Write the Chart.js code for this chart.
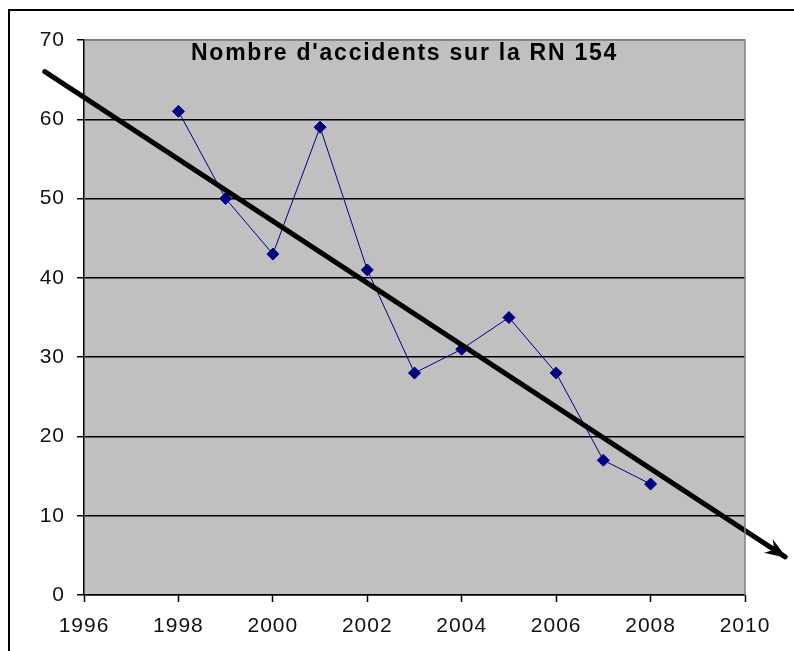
<!DOCTYPE html>
<html lang="fr">
<head>
<meta charset="UTF-8">
<title>Nombre d'accidents sur la RN 154</title>
<script src="https://cdn.jsdelivr.net/npm/chart.js"></script>
<style>
  body { margin: 0; background: #fff; overflow: hidden; }
  #frame { position: absolute; left: 8px; top: 9px; width: 900px; height: 800px;
           border-left: 2px solid #000; border-top: 2px solid #000; }
  #box { position: absolute; left: 0; top: 0; width: 794px; height: 651px; }
  #titre { position: absolute; left: 191px; top: 39px; font: bold 23px "Liberation Sans", Arial, sans-serif;
           letter-spacing: 1.75px; color: #000; white-space: nowrap; }
</style>
</head>
<body>
<div id="frame"></div>
<div id="box"><canvas id="chart"></canvas></div>
<div id="titre">Nombre d'accidents sur la RN 154</div>
<script>
// données
const annees = [1998, 1999, 2000, 2001, 2002, 2003, 2004, 2005, 2006, 2007, 2008];
const accidents = [61, 50, 43, 59, 41, 28, 31, 35, 28, 17, 14];
// flèche de tendance (extrémités)
const tendanceX = [1995.17, 2010.85];
const tendanceY = [66, 4.8];
const ticksX = [1996, 1998, 2000, 2002, 2004, 2006, 2008, 2010];

const fond = {
  id: 'fond',
  beforeDraw(chart) {
    const a = chart.chartArea, ctx = chart.ctx;
    ctx.letterSpacing = '1px';
    ctx.save();
    ctx.fillStyle = '#c0c0c0';
    ctx.fillRect(a.left, a.top, a.right - a.left, a.bottom - a.top);
    ctx.restore();
  },
  afterDraw(chart) {
    const a = chart.chartArea, ctx = chart.ctx;
    ctx.save();
    ctx.strokeStyle = '#808080';
    ctx.lineWidth = 1.5;
    ctx.beginPath();
    ctx.moveTo(a.left, a.top);
    ctx.lineTo(a.right, a.top);
    ctx.lineTo(a.right, a.bottom);
    ctx.stroke();
    ctx.restore();
  }
};

const fleche = {
  id: 'fleche',
  afterDatasetsDraw(chart) {
    const pts = chart.getDatasetMeta(0).data;
    const p1 = pts[pts.length - 2], p2 = pts[pts.length - 1];
    const ang = Math.atan2(p2.y - p1.y, p2.x - p1.x);
    const L = 20, W = 8;
    const ctx = chart.ctx;
    ctx.save();
    ctx.fillStyle = '#000';
    ctx.translate(p2.x, p2.y);
    ctx.rotate(ang);
    ctx.beginPath();
    ctx.moveTo(2, 0);
    ctx.lineTo(-L, -W);
    ctx.lineTo(-L * 0.65, 0);
    ctx.lineTo(-L, W);
    ctx.closePath();
    ctx.fill();
    ctx.restore();
  }
};

const police = { family: '"Liberation Sans", Arial, sans-serif', size: 21 };

new Chart(document.getElementById('chart'), {
  type: 'line',
  data: {
    datasets: [
      {
        label: 'Tendance',
        data: tendanceX.map((x, i) => ({ x: x, y: tendanceY[i] })),
        borderColor: '#000',
        borderWidth: 5,
        pointRadius: 0,
        clip: false,
        borderCapStyle: 'round'
      },
      {
        label: 'Accidents',
        data: annees.map((x, i) => ({ x: x, y: accidents[i] })),
        borderColor: '#000080',
        backgroundColor: '#000080',
        borderWidth: 1,
        pointStyle: 'rectRot',
        pointRadius: 6,
        pointBorderWidth: 1
      }
    ]
  },
  options: {
    responsive: true,
    maintainAspectRatio: false,
    animation: false,
    layout: { padding: { left: 0, top: 40, right: 49, bottom: 0 } },
    plugins: { legend: { display: false }, tooltip: { enabled: false } },
    scales: {
      x: {
        type: 'linear',
        min: 1996, max: 2010,
        afterBuildTicks(scale) { scale.ticks = ticksX.map(v => ({ value: v })); },
        afterFit(scale) { scale.height = 56; },
        ticks: { color: '#111', font: police, padding: 12, maxRotation: 0, callback: v => String(v) },
        grid: { drawOnChartArea: false, color: '#000', tickLength: 7, tickWidth: 1.5 },
        border: { color: '#000', width: 1.5 }
      },
      y: {
        min: 0, max: 70,
        ticks: { stepSize: 10, color: '#111', font: police, padding: 12 },
        afterFit(scale) { scale.width = 84; },
        grid: {
          color: c => (c.tick && c.tick.value === 70) ? '#808080' : '#000',
          tickColor: '#000',
          lineWidth: 1.5,
          tickLength: 7
        },
        border: { color: '#000', width: 1.5 }
      }
    }
  },
  plugins: [fond, fleche]
});
</script>
</body>
</html>
